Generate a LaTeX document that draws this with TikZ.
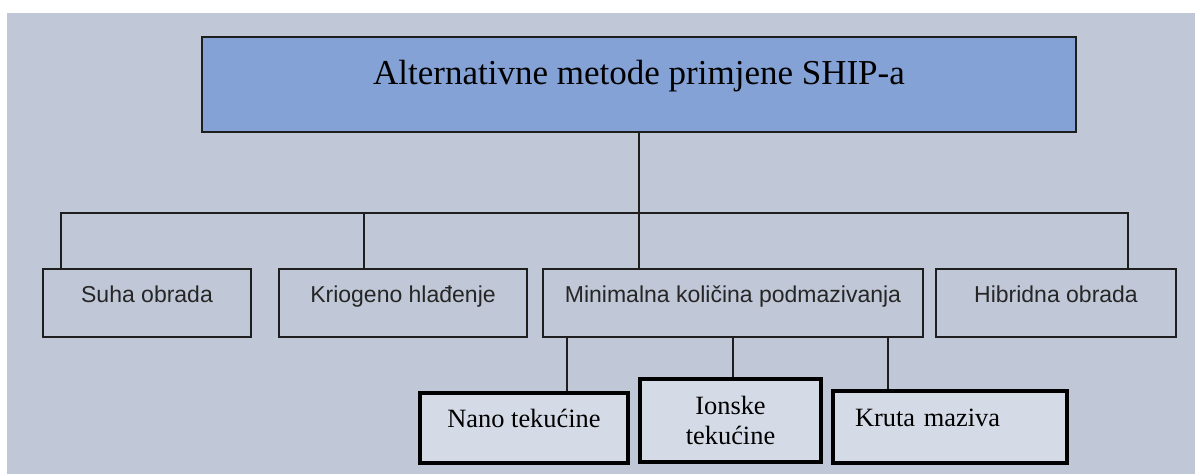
\documentclass[tikz,border=0pt]{standalone}
\usepackage{fontspec}
\setmainfont{Liberation Serif}
\newfontfamily\arialfont{Liberation Sans}
\usetikzlibrary{calc}
\definecolor{bggray}{HTML}{C0C7D7}
\definecolor{topblue}{HTML}{84A2D6}
\definecolor{subfill}{HTML}{D5DBE6}
\definecolor{edge}{HTML}{1E1E1E}

\begin{document}
\begin{tikzpicture}[x=0.5pt, y=-0.5pt,
        topbox/.style={draw=edge, line width=1pt, fill=topblue, inner sep=0pt,
            minimum width=437pt, minimum height=47.5pt,
            font=\fontsize{17.5}{21}\selectfont, text height=7pt, text depth=7pt},
        method/.style={draw=edge, line width=1pt, fill=bggray, inner sep=0pt,
            minimum height=34pt, text=black!85,
            font=\arialfont\fontsize{11.5}{14}\selectfont, text height=6pt, text depth=6pt},
        fluid/.style={draw=black, line width=1.6pt, fill=subfill, inner sep=0pt,
            font=\fontsize{13.2}{15}\selectfont},
        oneline/.style={text height=6pt, text depth=6pt},
        link/.style={draw=edge, line width=1pt}]
        \useasboundingbox (0, 0) rectangle (1195, 474);
        \fill[white] (0, 0) rectangle (1195, 474);
        \fill[bggray] (7, 13) rectangle (1195, 474);
        % glavni pojam
        \node[topbox] (top) at (639, 84.5) {Alternativne metode primjene SHIP-a};
        % metode
        \node[method, minimum width=104pt] (suha) at (147, 303) {Suha obrada};
        \node[method, minimum width=124pt] (krio) at (403, 303) {Kriogeno hlađenje};
        \node[method, minimum width=190pt] (mml) at (733, 303) {Minimalna količina podmazivanja};
        \node[method, minimum width=120pt] (hib) at (1056, 303) {Hibridna obrada};
        % vrste maziva
        \node[fluid, oneline, minimum width=104pt, minimum height=35pt] (nano) at (524, 428) {Nano tekućine};
        \node[fluid, align=center, minimum width=90.5pt, minimum height=41.5pt] (ion) at (730.5, 420.5) {Ionske\\tekućine};
        \node[fluid, oneline, text width=95pt, align=left, inner xsep=11pt, minimum height=36pt] (kruta) at (950, 427) {Kruta maziva};
        % veze
        \coordinate (busL) at (61, 213);
        \coordinate (busK) at (364, 213);
        \coordinate (busR) at (1128, 213);
        \draw[link] (suha.north -| busL) -- (busL) -- (busR) -- (hib.north -| busR);
        \draw[link] (busK) -- (krio.north -| busK);
        \draw[link] (top.south) -- (top.south |- mml.north);
        \coordinate (tapN) at ($(mml.south west) + (25, 0)$);
        \coordinate (tapK) at ($(mml.south east) + (-36, 0)$);
        \draw[link] (tapN) -- (tapN |- nano.north);
        \draw[link] (mml.south) -- (mml.south |- ion.north);
        \draw[link] (tapK) -- (tapK |- kruta.north);
    \end{tikzpicture}
\end{document}
